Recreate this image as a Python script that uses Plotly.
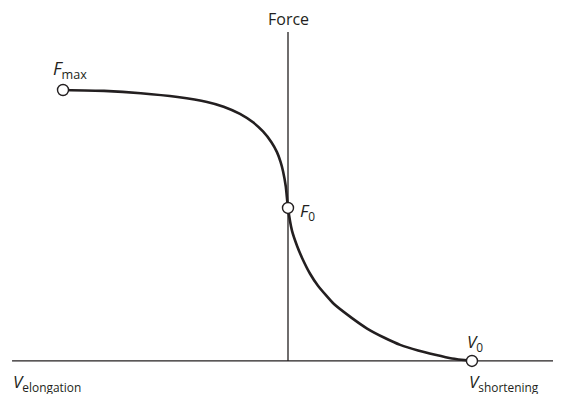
import plotly.graph_objects as go

# force-velocity curve, velocity in units of V0, force in units of F0
v_lengthen = [-1.223, -1.0, -0.8, -0.6, -0.44, -0.35, -0.261, -0.19, -0.136, -0.09,
              -0.060, -0.04, -0.027, -0.012, 0.0]
f_lengthen = [1.771, 1.765, 1.750, 1.725, 1.693, 1.662, 1.615, 1.560, 1.500, 1.430,
              1.365, 1.300, 1.240, 1.140, 1.0]
v_shorten = [0.0, 0.022, 0.05, 0.076, 0.12, 0.163, 0.25, 0.348, 0.43, 0.527, 0.61,
             0.707, 0.8, 0.891, 1.0]
f_shorten = [1.0, 0.850, 0.750, 0.675, 0.570, 0.492, 0.372, 0.280, 0.212, 0.150, 0.105,
             0.068, 0.040, 0.016, 0.0]

# highlighted points: Fmax, F0, V0
pt_v = [-1.223, 0.0, 1.0]
pt_f = [1.771, 1.0, 0.0]

fig = go.Figure()

# axes drawn as plain lines
fig.add_trace(go.Scatter(x=[-1.5, 1.451], y=[0, 0], mode='lines',
                         line=dict(color='#231f20', width=1.3), hoverinfo='skip'))
fig.add_trace(go.Scatter(x=[0, 0], y=[0, 2.15], mode='lines',
                         line=dict(color='#231f20', width=1.3), hoverinfo='skip'))

fig.add_trace(go.Scatter(x=v_lengthen + v_shorten[1:], y=f_lengthen + f_shorten[1:],
                         mode='lines', line=dict(color='#231f20', width=2.6, shape='spline', smoothing=0.5)))

fig.add_trace(go.Scatter(x=pt_v, y=pt_f, mode='markers',
                         marker=dict(size=11, color='white', line=dict(color='#231f20', width=1.4))))

font = dict(family='Open Sans, Noto Sans, sans-serif', size=17, color='#231f20')
notes = [
    (0.0, 2.235, 'Force', 'center', 16),
    (-1.29, 1.905, '<i>F</i><sub>max</sub>', 'left', 18),
    (0.055, 0.975, '<i>F</i><sub>0</sub>', 'left', 17),
    (0.96, 0.12, '<i>V</i><sub>0</sub>', 'left', 17),
    (-1.505, -0.14, '<i>V</i><sub>elongation</sub>', 'left', 17),
    (0.972, -0.14, '<i>V</i><sub>shortening</sub>', 'left', 17),
]
for x, y, t, anchor, size in notes:
    fig.add_annotation(x=x, y=y, text=t, showarrow=False, xanchor=anchor,
                       font=dict(font, size=size))

# the page adds an 8px body margin, so the figure is 8px smaller than the window
fig.update_layout(
    width=553, height=386,
    margin=dict(l=0, r=0, t=0, b=0),
    paper_bgcolor='white', plot_bgcolor='white',
    showlegend=False,
    xaxis=dict(range=[-1.522, 1.484], visible=False),
    yaxis=dict(range=[-0.216, 2.307], visible=False),
)

fig.write_html("out.html")
